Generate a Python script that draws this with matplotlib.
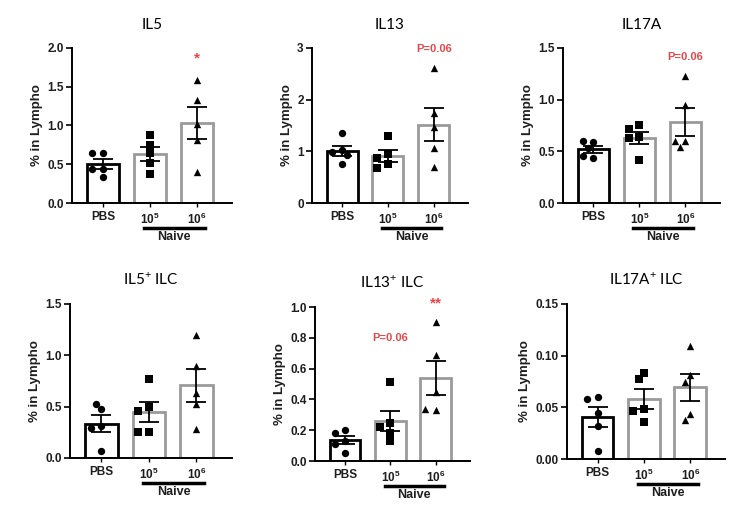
import numpy as np
import matplotlib
matplotlib.use("Agg")
import matplotlib.pyplot as plt

plt.rcParams['font.family'] = ['Liberation Sans', 'DejaVu Sans']
plt.rcParams['mathtext.fontset'] = 'custom'
plt.rcParams['mathtext.rm'] = 'Liberation Sans'
plt.rcParams['mathtext.bf'] = 'Liberation Sans:bold'

groups = ["PBS", r"$\mathbf{10^5}$", r"$\mathbf{10^6}$"]

# values, 5 mice per group
il5 = [[0.65, 0.65, 0.44, 0.44, 0.34],
       [0.88, 0.75, 0.65, 0.52, 0.37],
       [1.59, 1.33, 1.02, 0.81, 0.40]]
il13 = [[1.35, 1.02, 0.98, 0.92, 0.76],
        [1.30, 0.95, 0.88, 0.75, 0.67],
        [2.61, 1.74, 1.48, 1.06, 0.70]]
il17a = [[0.59, 0.60, 0.53, 0.44, 0.45],
         [0.75, 0.72, 0.64, 0.63, 0.42],
         [1.23, 0.95, 0.60, 0.60, 0.54]]
il5_ilc = [[0.48, 0.53, 0.31, 0.29, 0.07],
           [0.77, 0.50, 0.46, 0.25, 0.25],
           [1.20, 0.90, 0.63, 0.53, 0.28]]
il13_ilc = [[0.20, 0.18, 0.13, 0.11, 0.05],
            [0.51, 0.25, 0.22, 0.18, 0.13],
            [0.90, 0.69, 0.45, 0.33, 0.34]]
il17a_ilc = [[0.060, 0.058, 0.045, 0.032, 0.008],
             [0.0835, 0.0774, 0.048, 0.046, 0.036],
             [0.109, 0.081, 0.075, 0.044, 0.038]]

titles = ["IL5", "IL13", "IL17A", "IL5$^{+}$ ILC", "IL13$^{+}$ ILC", "IL17A$^{+}$ ILC"]
datasets = [il5, il13, il17a, il5_ilc, il13_ilc, il17a_ilc]
ymax = [2.0, 3.0, 1.5, 1.5, 1.0, 0.15]
yticks = [[0.0, 0.5, 1.0, 1.5, 2.0], [0, 1, 2, 3], [0.0, 0.5, 1.0, 1.5],
          [0.0, 0.5, 1.0, 1.5], [0.0, 0.2, 0.4, 0.6, 0.8, 1.0], [0.00, 0.05, 0.10, 0.15]]
yfmt = ["{:.1f}", "{:.0f}", "{:.1f}", "{:.1f}", "{:.1f}", "{:.2f}"]
# (panel, group, y, text)
annotations = [(0, 2, 1.86, "*"), (1, 2, 2.98, "P=0.06"), (2, 2, 1.41, "P=0.06"),
               (4, 1, 0.80, "P=0.06"), (4, 2, 1.02, "**")]

RED = "#e8464a"
GRAY = "#9a9a9a"
TXT = "#1e1e1e"
markers = ["o", "s", "^"]

W, H = 735, 511
boxes = [(72, 232, 48, 203), (312, 468, 48, 203), (563, 720, 48, 203),
         (70, 232, 304, 458), (315, 470, 307, 461), (567, 725, 304, 459)]

fig = plt.figure(figsize=(W / 100, H / 100), dpi=100)


def swarm(vals, xpx, ypx, d=7.5):
    # simple deterministic beeswarm, returns x offsets in data units
    placed = []
    offs = []
    for v in vals:
        y = v * ypx
        for k in [0, -0.7, 0.7, -1.4, 1.4, -2.1, 2.1]:
            x = k * d
            if all((x - px) ** 2 + (y - py) ** 2 >= (0.95 * d) ** 2 for px, py in placed):
                break
        placed.append((x, y))
        offs.append(x / xpx)
    return offs


for i, (data, (l, r, t, b)) in enumerate(zip(datasets, boxes)):
    ax = fig.add_axes([l / W, 1 - b / H, (r - l) / W, (b - t) / H])
    xlim = (-0.66, 2.75)
    ax.set_xlim(*xlim)
    ax.set_ylim(0, ymax[i])
    xpx = (r - l) / (xlim[1] - xlim[0])
    ypx = (b - t) / ymax[i]

    for g, vals in enumerate(data):
        vals = np.array(vals)
        mean = vals.mean()
        sem = vals.std(ddof=1) / np.sqrt(len(vals))
        ec = "black" if g == 0 else GRAY
        ax.bar(g, mean, width=0.68, facecolor="white", edgecolor=ec, linewidth=2, zorder=1)
        offs = swarm(vals, xpx, ypx)
        ax.scatter(g + np.array(offs), vals, marker=markers[g], s=28, color="black",
                   zorder=3, clip_on=False, linewidths=0)
        ax.errorbar(g, mean, yerr=sem, color="black", capsize=7, elinewidth=1.3,
                    capthick=1.3, zorder=4)

    for p, g, y, txt in annotations:
        if p == i:
            fs = 11 if "*" in txt else 8
            ax.text(g, y, txt, color=RED, ha="center", va="center", fontsize=fs,
                    fontweight="bold")

    ax.set_xticks(range(3))
    ax.set_xticklabels(groups, fontsize=8.5, fontweight="bold", color=TXT)
    ax.set_yticks(yticks[i])
    ax.set_yticklabels([yfmt[i].format(v) for v in yticks[i]], fontsize=8.5,
                       fontweight="bold", color=TXT)
    ax.tick_params(axis="y", length=4, width=1.2, pad=2)
    ax.tick_params(axis="x", length=3, width=1.0, pad=3)
    for s in ["top", "right"]:
        ax.spines[s].set_visible(False)
    for s in ["left", "bottom"]:
        ax.spines[s].set_linewidth(1.4)
    ax.set_ylabel("% in Lympho", fontsize=9.5, fontweight="bold", color=TXT, labelpad=3)
    ax.set_title(titles[i], fontsize=11, fontfamily=["Lato", "DejaVu Sans"], pad=14)

    # Naive bracket under the two treated groups
    tr = ax.get_xaxis_transform()
    yb = -25 / (b - t)
    ax.plot([0.87, 2.17], [yb, yb], color="black", lw=2.5, transform=tr, clip_on=False)
    ax.text(1.52, yb - 3 / (b - t), "Naive", transform=tr, ha="center", va="top",
            fontsize=9, fontweight="bold", color=TXT)

fig.savefig("out.png", dpi=100, facecolor="white")
